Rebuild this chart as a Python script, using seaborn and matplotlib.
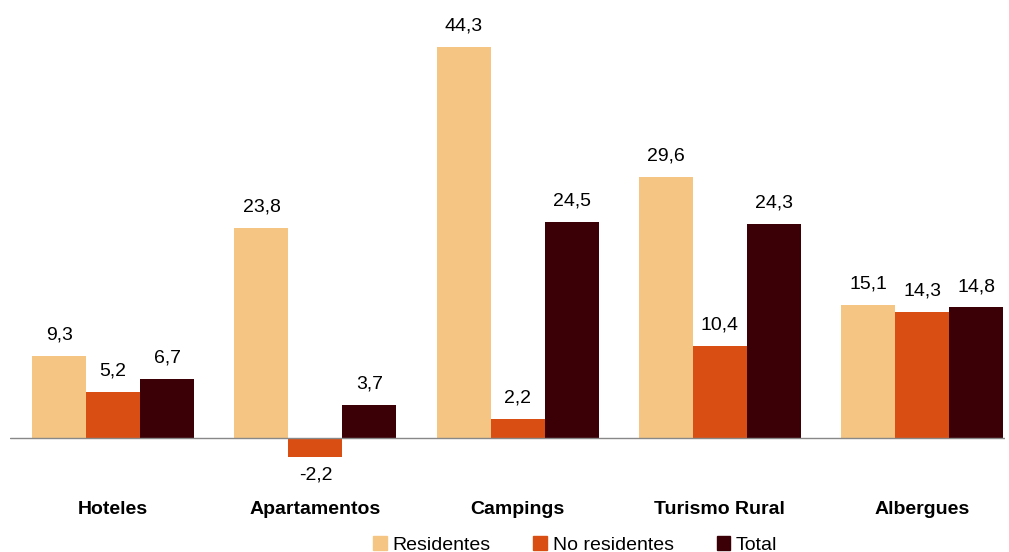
import numpy as np
import pandas as pd
import seaborn as sns
from matplotlib import pyplot as plt

categorias = ['Hoteles', 'Apartamentos', 'Campings', 'Turismo Rural', 'Albergues']
residentes = [9.3, 23.8, 44.3, 29.6, 15.1]
no_residentes = [5.2, -2.2, 2.2, 10.4, 14.3]
total = [6.7, 3.7, 24.5, 24.3, 14.8]
series = ['Residentes', 'No residentes', 'Total']
colores = ['#F5C584', '#D94E12', '#3A0006']

df = pd.DataFrame({
    'cat': categorias * 3,
    'serie': np.repeat(series, 5),
    'valor': residentes + no_residentes + total,
})

sns.set_theme(style='white')
plt.rcParams['font.family'] = ['Liberation Sans', 'DejaVu Sans']
plt.rcParams['text.color'] = 'black'
fig = plt.figure(figsize=(10.09, 5.52), dpi=100)
ax = fig.add_axes([10 / 1009, 72 / 552, 995 / 1009, 470 / 552])
sns.barplot(data=df, x='cat', y='valor', hue='serie', palette=colores,
            width=0.8, saturation=1, ax=ax, legend=False, linewidth=0)

ax.set_xlim(-0.51, 4.41)
ax.set_ylim(-4.76, 48.5)
for s in ax.spines.values():
    s.set_visible(False)
ax.axhline(0, color='#888888', lw=1)
ax.set_yticks([])
ax.set_xlabel('')
ax.set_ylabel('')
ax.tick_params(axis='x', length=0, pad=15, labelcolor='black')
for t in ax.get_xticklabels():
    t.set_fontweight('bold')
    t.set_fontsize(14)

for cont in ax.containers:
    for bar in cont:
        v = bar.get_height()
        x = bar.get_x() + bar.get_width() / 2
        if v >= 0:
            ax.text(x, v + 1.4, f'{v:.1f}'.replace('.', ','), ha='center', va='bottom', fontsize=14, color='black')
        else:
            ax.text(x, v - 1.0, f'{v:.1f}'.replace('.', ','), ha='center', va='top', fontsize=14, color='black')

handles = [plt.Rectangle((0, 0), 1, 1, color=c) for c in colores]
fig.legend(handles, series, loc='lower center', ncol=3, frameon=False,
           fontsize=14, handlelength=0.7, handleheight=0.7, handletextpad=0.3,
           columnspacing=2.2, bbox_to_anchor=(0.57, -0.035))

fig.savefig('out.png', dpi=100)
